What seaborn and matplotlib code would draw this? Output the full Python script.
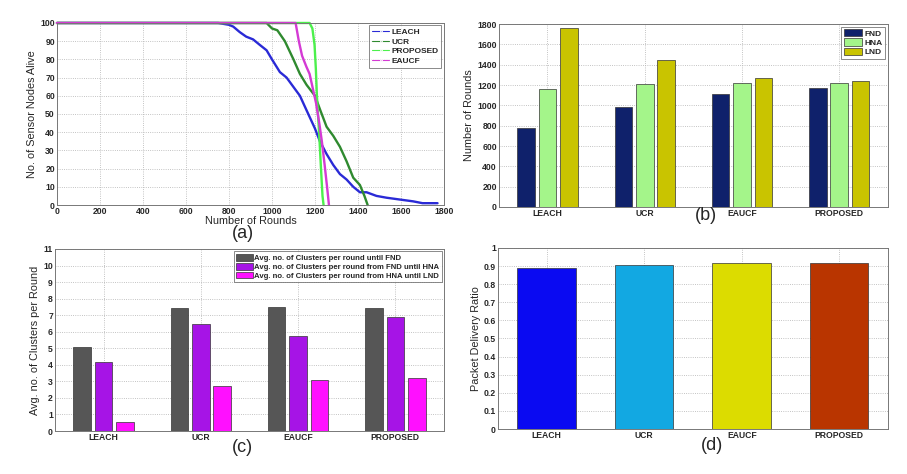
import numpy as np
import pandas as pd
import matplotlib
matplotlib.use("Agg")
import matplotlib.pyplot as plt
import seaborn as sns

# (a) network lifetime curves
leach_x = [0, 750, 800, 820, 850, 880, 912, 943, 975, 1000, 1037, 1068, 1099, 1130, 1161, 1200,
           1223, 1254, 1285, 1316, 1347, 1378, 1409, 1440, 1486, 1533, 1595, 1657, 1700, 1770]
leach_y = [100, 100, 99, 98, 95, 92.5, 91, 88, 85, 80, 73, 70, 65, 60, 52, 42,
           35, 28, 22, 17, 14, 10, 7, 7, 5, 4, 3, 2, 1, 1]
ucr_x = [0, 975, 1000, 1025, 1060, 1100, 1130, 1161, 1200, 1225, 1254, 1285, 1316, 1347, 1378, 1409, 1430, 1445]
ucr_y = [100, 100, 97, 96, 90, 80, 72, 66, 60, 52, 43, 38, 32, 24, 15, 11, 5, 0]
prop_x = [0, 1175, 1188, 1198, 1204, 1209, 1214, 1220, 1228, 1235, 1240]
prop_y = [100, 100, 97, 88, 75, 60, 50, 38, 20, 5, 0]
eaucf_x = [0, 1110, 1125, 1140, 1160, 1175, 1190, 1205, 1220, 1232, 1245, 1258, 1265]
eaucf_y = [100, 100, 90, 82, 76, 72, 64, 56, 45, 35, 22, 8, 0]

protocols = ["LEACH", "UCR", "EAUCF", "PROPOSED"]

# (b) FND / HNA / LND rounds
fnd = [775, 980, 1110, 1175]
hna = [1160, 1210, 1220, 1220]
lnd = [1765, 1445, 1265, 1240]

# (c) average clusters per round
clu_fnd = [5.05, 7.45, 7.5, 7.45]
clu_hna = [4.15, 6.45, 5.75, 6.88]
clu_lnd = [0.55, 2.75, 3.1, 3.2]
clu_labels = ["Avg. no. of Clusters per round until FND",
              "Avg. no. of Clusters per round from FND until HNA",
              "Avg. no. of Clusters per round from HNA until LND"]

# (d) packet delivery ratio
pdr = [0.888, 0.905, 0.915, 0.918]

sns.set_style("white")
plt.rcParams["font.family"] = ["Liberation Sans", "DejaVu Sans"]
plt.rcParams["xtick.direction"] = "in"
plt.rcParams["ytick.direction"] = "in"

fig = plt.figure(figsize=(9.07, 4.74), dpi=100)
ax_a = fig.add_axes([0.0628, 0.5675, 0.4267, 0.384])
ax_b = fig.add_axes([0.550, 0.5633, 0.4289, 0.386])
ax_c = fig.add_axes([0.0606, 0.0907, 0.4289, 0.384])
ax_d = fig.add_axes([0.549, 0.0949, 0.430, 0.382])

tick_fs = 6.2
lab_fs = 7.8
leg_fs = 6.0


def style_axes(ax):
    ax.grid(True, linestyle=":", color="#b0b0b0", linewidth=0.6)
    ax.set_axisbelow(True)
    for s in ax.spines.values():
        s.set_color("#777777")
        s.set_linewidth(0.7)
    ax.tick_params(labelsize=tick_fs, length=2, width=0.5, color="#555555", pad=1.5)
    for t in ax.get_xticklabels() + ax.get_yticklabels():
        t.set_fontweight("bold")


def style_legend(leg):
    leg.get_frame().set_edgecolor("#555555")
    leg.get_frame().set_linewidth(0.6)
    for t in leg.get_texts():
        t.set_fontweight("bold")


# ---- (a)
line_df = pd.concat([
    pd.DataFrame({"rounds": leach_x, "alive": leach_y, "protocol": "LEACH"}),
    pd.DataFrame({"rounds": ucr_x, "alive": ucr_y, "protocol": "UCR"}),
    pd.DataFrame({"rounds": prop_x, "alive": prop_y, "protocol": "PROPOSED"}),
    pd.DataFrame({"rounds": eaucf_x, "alive": eaucf_y, "protocol": "EAUCF"}),
])
line_pal = {"LEACH": "#2a2ad6", "UCR": "#2f8a2f", "PROPOSED": "#4cf04c", "EAUCF": "#d43ad4"}
sns.lineplot(data=line_df, x="rounds", y="alive", hue="protocol", palette=line_pal,
             estimator=None, sort=False, linewidth=1.7, ax=ax_a)
for ln in ax_a.get_lines():
    ln.set_clip_on(False)
ax_a.set_xlim(0, 1800)
ax_a.set_ylim(0, 100)
ax_a.set_xticks(np.arange(0, 1801, 200))
ax_a.set_yticks(np.arange(0, 101, 10))
ax_a.set_xlabel("Number of Rounds", fontsize=lab_fs, labelpad=0)
ax_a.set_ylabel("No. of Sensor Nodes Alive", fontsize=lab_fs, labelpad=2)
style_axes(ax_a)
leg = ax_a.legend(loc="upper right", fontsize=leg_fs, frameon=True, fancybox=False,
                  handlelength=2.0, borderpad=0.35, labelspacing=0.2, borderaxespad=0.3,
                  handletextpad=0.3)
style_legend(leg)
for h in leg.get_lines():
    h.set_linewidth(0.8)
    h.set_marker(".")
    h.set_markersize(2.5)

# ---- (b)
bar_df = pd.DataFrame({
    "protocol": protocols * 3,
    "metric": ["FND"] * 4 + ["HNA"] * 4 + ["LND"] * 4,
    "rounds": fnd + hna + lnd,
})
sns.barplot(data=bar_df, x="protocol", y="rounds", hue="metric",
            palette=["#0f216b", "#a4f58a", "#c9c400"], saturation=1, width=0.66, gap=0.18,
            edgecolor="#333333", linewidth=0.5, ax=ax_b)
ax_b.set_xlim(-0.5, 3.5)
ax_b.set_ylim(0, 1800)
ax_b.set_yticks(np.arange(0, 1801, 200))
ax_b.set_xlabel("")
ax_b.set_ylabel("Number of Rounds", fontsize=lab_fs, labelpad=2)
style_axes(ax_b)
leg = ax_b.legend(loc="upper right", fontsize=leg_fs, frameon=True, fancybox=False,
                  handlelength=2.2, handleheight=1.0, borderpad=0.3, labelspacing=0.1,
                  borderaxespad=0.3, handletextpad=0.3)
style_legend(leg)

# ---- (c)
clu_df = pd.DataFrame({
    "protocol": protocols * 3,
    "phase": [clu_labels[0]] * 4 + [clu_labels[1]] * 4 + [clu_labels[2]] * 4,
    "clusters": clu_fnd + clu_hna + clu_lnd,
})
sns.barplot(data=clu_df, x="protocol", y="clusters", hue="phase",
            palette=["#565656", "#a614e6", "#ff10ff"], saturation=1, width=0.66, gap=0.18,
            edgecolor="#333333", linewidth=0.5, ax=ax_c)
ax_c.set_xlim(-0.5, 3.5)
ax_c.set_ylim(0, 11)
ax_c.set_yticks(np.arange(0, 12, 1))
ax_c.set_xlabel("")
ax_c.set_ylabel("Avg. no. of Clusters per Round", fontsize=lab_fs, labelpad=2)
style_axes(ax_c)
leg = ax_c.legend(loc="upper right", fontsize=5.6, frameon=True, fancybox=False,
                  handlelength=2.2, handleheight=1.0, borderpad=0.3, labelspacing=0.1,
                  borderaxespad=0.3, handletextpad=0.1)
style_legend(leg)

# ---- (d)
sns.barplot(x=protocols, y=pdr, hue=protocols,
            palette=["#0a0af2", "#12a8e2", "#dcdc00", "#b93500"], saturation=1, width=0.6,
            edgecolor="#333333", linewidth=0.5, legend=False, ax=ax_d)
ax_d.set_xlim(-0.5, 3.5)
ax_d.set_ylim(0, 1)
ax_d.set_yticks(np.arange(0, 1.01, 0.1))
ax_d.set_yticklabels(["0"] + [f"{v:.1f}" for v in np.arange(0.1, 0.95, 0.1)] + ["1"])
ax_d.set_ylabel("Packet Delivery Ratio", fontsize=lab_fs, labelpad=2)
style_axes(ax_d)

for txt, x, y in [("(a)", 243, 233), ("(b)", 706, 215), ("(c)", 242, 447), ("(d)", 712, 445)]:
    fig.text(x / 907, 1 - y / 474, txt, ha="center", va="center", fontsize=13)

fig.savefig("out.png", dpi=100)
